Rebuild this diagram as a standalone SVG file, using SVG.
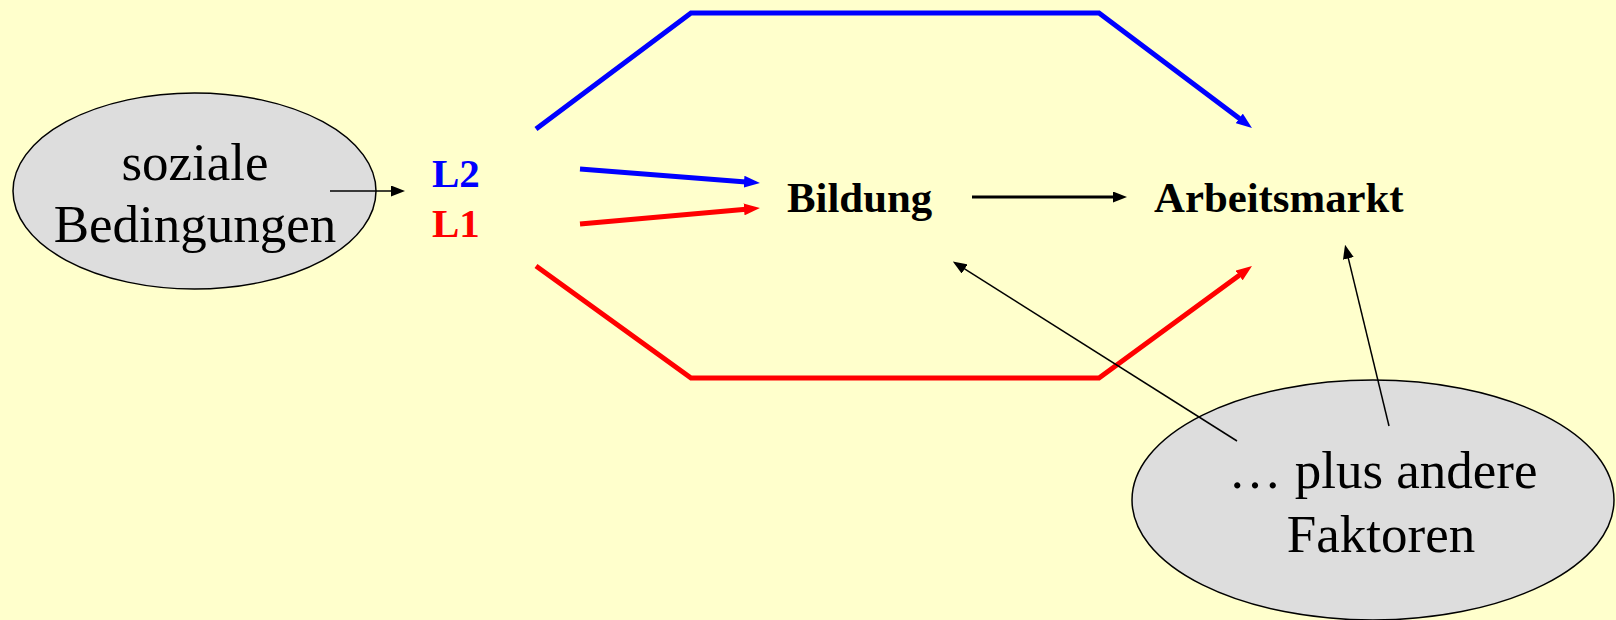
<svg xmlns="http://www.w3.org/2000/svg" width="1616" height="620" viewBox="0 0 1616 620">
<style>
.node{fill:#DDDDDD;stroke:#000;stroke-width:1.5}
.big{font-family:"Liberation Serif","Times New Roman",serif;font-size:53px;fill:#000;text-anchor:middle}
.bold{font-family:"Liberation Serif","Times New Roman",serif;font-size:41px;font-weight:bold}
.bold2{font-family:"Liberation Serif","Times New Roman",serif;font-size:42.8px;font-weight:bold;fill:#000}
.blue{fill:none;stroke:#0000FF;stroke-width:5}
.red{fill:none;stroke:#FF0000;stroke-width:5}
.blk{fill:none;stroke:#000;stroke-width:1.5}
.blk3{fill:none;stroke:#000;stroke-width:3}
</style>
<defs>
<marker id="mb" viewBox="0 0 16 12" markerWidth="16" markerHeight="12" markerUnits="userSpaceOnUse" refX="2" refY="6" orient="auto"><path d="M0,0 L16,6 L0,12 z" fill="#0000FF"/></marker>
<marker id="mr" viewBox="0 0 16 12" markerWidth="16" markerHeight="12" markerUnits="userSpaceOnUse" refX="2" refY="6" orient="auto"><path d="M0,0 L16,6 L0,12 z" fill="#FF0000"/></marker>
<marker id="mk" viewBox="0 0 14 11" markerWidth="14" markerHeight="11" markerUnits="userSpaceOnUse" refX="1" refY="5.5" orient="auto"><path d="M0,0 L14,5.5 L0,11 z" fill="#000"/></marker>
</defs>
<rect width="1616" height="620" fill="#FFFFCC"/>
<g id="soziale">
<ellipse class="node" cx="194.5" cy="191" rx="181.5" ry="98"/>
<text class="big" x="195" y="180">soziale</text>
<text class="big" x="195" y="242">Bedingungen</text>
</g>
<g id="andere">
<ellipse class="node" cx="1373" cy="500" rx="241" ry="120"/>
<text class="big" x="1383" y="488">… plus andere</text>
<text class="big" x="1381" y="552">Faktoren</text>
</g>
<g id="L">
<text class="bold" x="432" y="187" fill="#0000FF">L2</text>
<text class="bold" x="432" y="237" fill="#FF0000">L1</text>
</g>
<g id="bildung"><text class="bold2" x="787" y="212">Bildung</text></g>
<g id="arbeitsmarkt"><text class="bold2" x="1154" y="212">Arbeitsmarkt</text></g>
<g id="connectors">
<polyline class="blue" points="536,129 691,13 1099,13 1240.8,119.6" marker-end="url(#mb)"/>
<polyline class="red" points="536,266 691,378 1099,378 1240.7,274.3" marker-end="url(#mr)"/>
<line class="blue" x1="580" y1="169" x2="746" y2="181.9" marker-end="url(#mb)"/>
<line class="red" x1="580" y1="224" x2="746" y2="209.2" marker-end="url(#mr)"/>
<line class="blk" x1="330" y1="191" x2="392" y2="191" marker-end="url(#mk)"/>
<line class="blk3" x1="972" y1="197" x2="1114" y2="197" marker-end="url(#mk)"/>
<line class="blk" x1="1389" y1="426" x2="1348.1" y2="257.4" marker-end="url(#mk)"/>
<line class="blk" x1="1237" y1="441" x2="963.8" y2="268.4" marker-end="url(#mk)"/>
</g>
</svg>
